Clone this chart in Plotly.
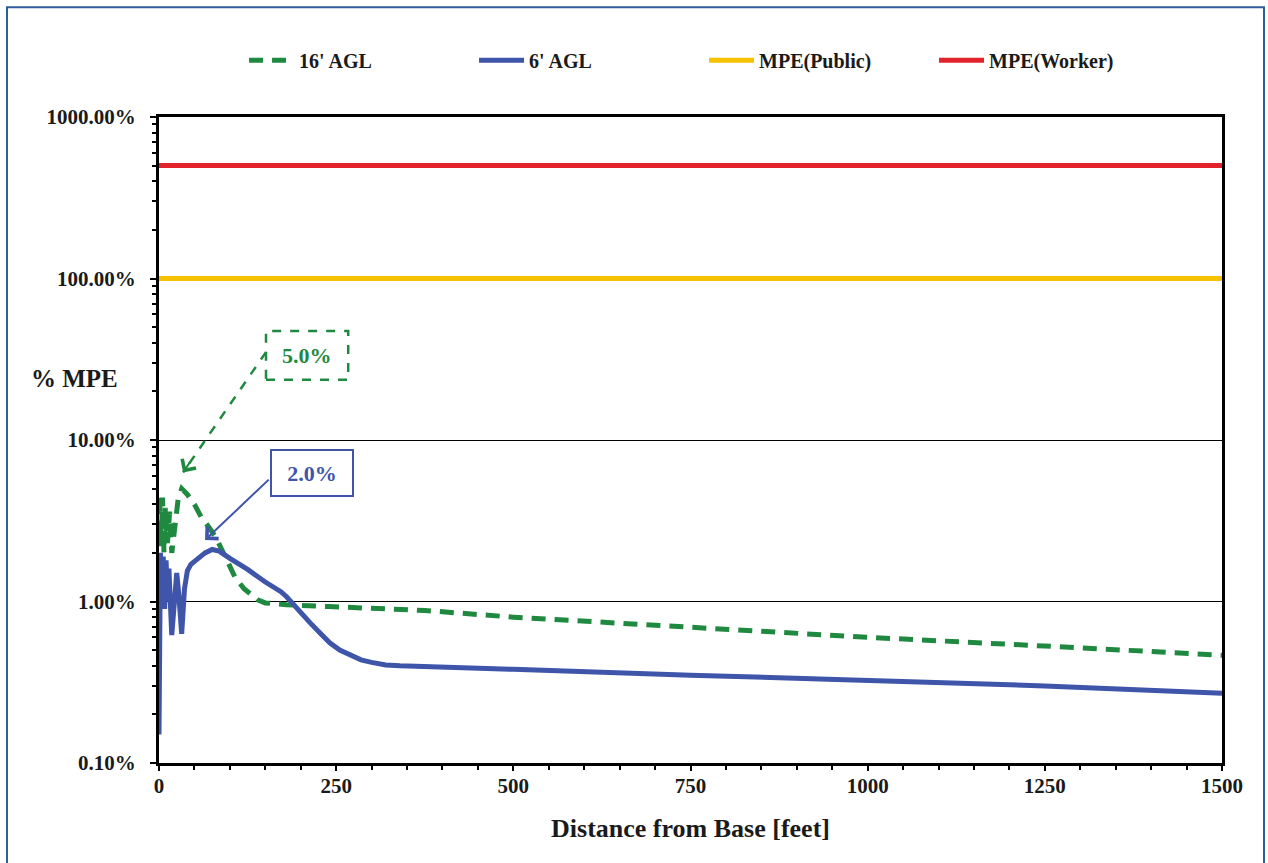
import math
import plotly.graph_objects as go

# ---- data ----
x_16 = [0, 1, 3, 5, 7, 9, 12, 15, 18, 22, 27, 32, 40, 50, 60, 70, 80, 96, 107, 120, 130, 140, 150, 165, 180, 240, 375, 500, 750, 1000, 1250, 1500]
y_16 = [2.5, 4.6, 2.2, 4.4, 2.0, 3.8, 2.3, 3.6, 2.0, 3.0, 4.3, 5.0, 4.6, 4.0, 3.3, 2.9, 2.5, 1.8, 1.42, 1.2, 1.1, 1.02, 0.98, 0.965, 0.955, 0.93, 0.88, 0.80, 0.69, 0.60, 0.53, 0.465]

x_6 = [0, 1, 2, 4, 6, 8, 10, 12, 14, 18, 22, 25, 28, 32, 36, 40, 45, 55, 65, 75, 85, 100, 125, 150, 172, 180, 195, 213, 230, 241, 255, 270, 285, 300, 320, 340, 400, 500, 750, 1000, 1250, 1500]
y_6 = [0.15, 1.2, 2.0, 1.2, 1.9, 0.9, 1.8, 1.0, 1.6, 0.62, 1.2, 1.5, 1.1, 0.63, 1.2, 1.55, 1.7, 1.85, 2.0, 2.1, 2.05, 1.85, 1.58, 1.32, 1.15, 1.07, 0.9, 0.74, 0.62, 0.555, 0.5, 0.462, 0.435, 0.42, 0.405, 0.40, 0.39, 0.38, 0.35, 0.325, 0.30, 0.27]

x_mpe = [0, 1500]
y_public = [100, 100]
y_worker = [500, 500]

y_tickvals = [0.1, 1, 10, 100, 1000]
y_ticktext = ["0.10%", "1.00%", "10.00%", "100.00%", "1000.00%"]
x_tickvals = [0, 250, 500, 750, 1000, 1250, 1500]

# annotation data: label, arrow head (x, y%), arrow tail (x, y%), box
ann16 = dict(label="5.0%", head=(34, 6.3), tail=(151, 35), box=(151, 267, 23.6, 47.3))
ann6 = dict(label="2.0%", head=(65, 2.4), tail=(157, 5.8), box=(157, 6.25))

GREEN = "#1F8A3F"
BLUE = "#3F55A9"
YELLOW = "#F6C200"
RED = "#E3232B"
TXT = "#1a1a1a"
FONT = "Liberation Serif"

fig = go.Figure()
fig.add_trace(go.Scatter(x=x_16, y=y_16, name="16' AGL", mode="lines",
                         line=dict(color=GREEN, width=5, dash="14px,9px")))
fig.add_trace(go.Scatter(x=x_6, y=y_6, name="6' AGL", mode="lines",
                         line=dict(color=BLUE, width=5)))
fig.add_trace(go.Scatter(x=x_mpe, y=y_public, name="MPE(Public)", mode="lines",
                         line=dict(color=YELLOW, width=5)))
fig.add_trace(go.Scatter(x=x_mpe, y=y_worker, name="MPE(Worker)", mode="lines",
                         line=dict(color=RED, width=5)))

minor_vals = [m * 10 ** e for e in range(-1, 3) for m in range(2, 10)]

fig.update_layout(
    width=1268, height=863,
    margin=dict(l=159, r=46, t=117, b=100),
    paper_bgcolor="white", plot_bgcolor="white",
    font=dict(family=FONT, color=TXT, size=16),
    showlegend=True,
    legend=dict(orientation="h", x=0.08, y=1.088, xanchor="left", yanchor="middle",
                entrywidth=170, entrywidthmode="pixels", itemwidth=45,
                font=dict(family=FONT, size=20, color=TXT, weight="bold"),
                bgcolor="rgba(0,0,0,0)"),
    xaxis=dict(range=[0, 1500], tickvals=x_tickvals, ticks="outside", ticklen=5, tickwidth=1.5,
               tickcolor="black", showline=True, linecolor="black", linewidth=3, mirror=True,
               showgrid=False, zeroline=False, ticklabelstandoff=-3,
               minor=dict(dtick=50, ticks="outside", ticklen=4, tickcolor="black", showgrid=False),
               tickfont=dict(family=FONT, size=21, color=TXT, weight="bold"),
               title=dict(text="<b>Distance from Base [feet]</b>", font=dict(family=FONT, size=26, color=TXT),
                          standoff=22)),
    yaxis=dict(type="log", range=[-1, 3], tickvals=y_tickvals, ticktext=y_ticktext,
               ticks="outside", ticklen=6, tickwidth=1.5, tickcolor="black",
               showline=True, linecolor="black", linewidth=3, mirror=True,
               showgrid=True, gridcolor="black", gridwidth=1, zeroline=False, ticklabelstandoff=10,
               minor=dict(tickvals=minor_vals, ticks="outside", ticklen=4, tickcolor="black", showgrid=False),
               tickfont=dict(family=FONT, size=21, color=TXT, weight="bold")),
)

# y axis title as horizontal text
fig.add_annotation(xref="paper", yref="paper", x=(74 - 159) / 1063, y=(763 - 378) / 646, text="<b>% MPE</b>",
                   showarrow=False, font=dict(family=FONT, size=25, color=TXT), xanchor="center")

# outer frame
fig.add_shape(type="rect", xref="paper", yref="paper", x0=-0.143, x1=1.0395, y0=-0.2, y1=1.170,
              line=dict(color="#2F5C9A", width=2), layer="below")

# 16' annotation: dashed box, dashed arrow line, arrowhead
x0, x1, ylo, yhi = ann16["box"]
fig.add_shape(type="rect", x0=x0, x1=x1, y0=ylo, y1=yhi, xref="x", yref="y",
              line=dict(color=GREEN, width=2.5, dash="dash"), fillcolor="white")
fig.add_shape(type="line", x0=ann16["tail"][0], y0=ann16["tail"][1],
              x1=ann16["head"][0], y1=ann16["head"][1], xref="x", yref="y",
              line=dict(color=GREEN, width=2.5, dash="dash"))
fig.add_annotation(x=ann16["head"][0], y=math.log10(ann16["head"][1]),
                   ax=8, ay=-12, showarrow=True, arrowhead=4, arrowsize=1.6, arrowwidth=2,
                   arrowcolor=GREEN, text="")
fig.add_annotation(x=(x0 + x1) / 2, y=(math.log10(ylo) + math.log10(yhi)) / 2, text="<b>5.0%</b>",
                   showarrow=False, font=dict(family=FONT, size=22, color=GREEN))

# 6' annotation: solid arrow and box
fig.add_annotation(x=ann6["head"][0], y=math.log10(ann6["head"][1]),
                   ax=ann6["tail"][0], ay=math.log10(ann6["tail"][1]), axref="x", ayref="y",
                   showarrow=True, arrowhead=4, arrowsize=1.6, arrowwidth=2, arrowcolor=BLUE, text="")
fig.add_annotation(x=ann6["box"][0], y=math.log10(ann6["box"][1]), xanchor="left",
                   text="<b>2.0%</b>", showarrow=False, font=dict(family=FONT, size=22, color=BLUE),
                   width=70, height=34, bordercolor=BLUE, borderwidth=2, borderpad=5, bgcolor="white")

fig.write_html("out.html", config={"displayModeBar": False},
               post_script="document.body.style.margin='0';")
